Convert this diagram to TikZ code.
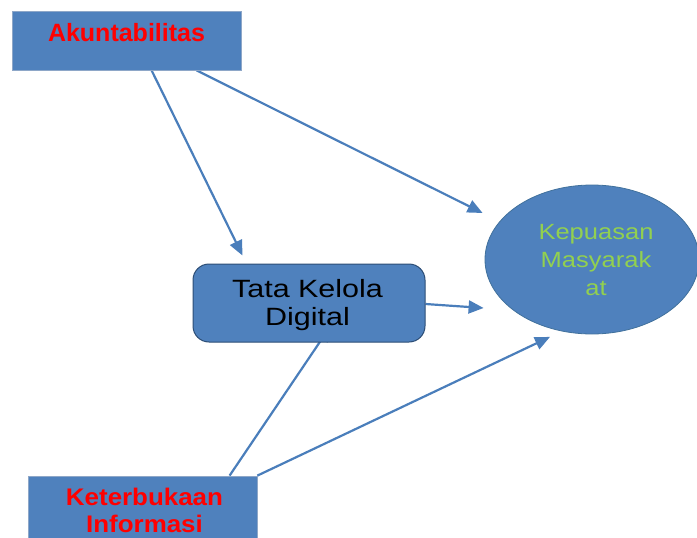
\documentclass[tikz,border=0pt]{standalone}
\usepackage{fontspec}
\setmainfont{Liberation Sans}
\newfontfamily\regfont[FakeStretch=1.22]{Liberation Sans}
\newfontfamily\kepfont[FakeStretch=1.16]{Liberation Sans}
\newfontfamily\infofont[FakeStretch=1.08]{Liberation Sans}
\usetikzlibrary{shapes.geometric,arrows.meta,calc}
\definecolor{boxblue}{HTML}{4F81BD}
\definecolor{lightedge}{HTML}{8EA7C8}
\definecolor{darkedge}{HTML}{2C4D75}
\definecolor{elledge}{HTML}{41719C}
\definecolor{arrowblue}{HTML}{4A7EBB}
\definecolor{kepgreen}{HTML}{92D050}
\pgfdeclarelayer{background}
\pgfsetlayers{background,main}
\tikzset{
  sqbox/.style={rectangle, fill=boxblue, draw=lightedge, line width=0.8pt, inner sep=0pt},
  tatabox/.style={rectangle, rounded corners=16pt, fill=boxblue, draw=darkedge, line width=1pt, inner sep=0pt},
  kepell/.style={ellipse, fill=boxblue, draw=elledge, line width=0.8pt, inner sep=0pt},
  redlbl/.style={text=red, font=\bfseries\fontsize{25}{28}\selectfont, align=center, inner sep=0pt},
  infolbl/.style={text=red, font=\infofont\bfseries\fontsize{24}{27}\selectfont, align=center, inner sep=0pt},
  tatalbl/.style={text=black, font=\regfont\fontsize{25}{28}\selectfont, align=center, inner sep=0pt},
  keplbl/.style={text=kepgreen, font=\kepfont\fontsize{22}{28}\selectfont, align=center, inner sep=0pt},
  arr/.style={draw=arrowblue, line width=2.2pt, -{Triangle[length=15pt,width=13pt]}, arrowblue}
}
\begin{document}
\begin{tikzpicture}[x=1pt,y=-1pt]
\useasboundingbox (0,0) rectangle (697,538);
\clip (0,0) rectangle (697,538);
\node[sqbox, minimum width=229pt, minimum height=59pt,
  label={[redlbl,yshift=7.45pt]center:{Akuntabilitas}}] (akun) at (126.5,40.5) {};
\node[tatabox, minimum width=232pt, minimum height=78pt,
  label={[tatalbl,xshift=-1.5pt,yshift=-1.7pt]center:{Tata Kelola\\Digital}}] (tata) at (309,303) {};
\node[kepell, minimum width=214pt, minimum height=149pt,
  label={[keplbl,xshift=4pt,yshift=-0.6pt]center:{Kepuasan\\Masyarak\\at}}] (kep) at (592,259.5) {};
\node[sqbox, minimum width=229pt, minimum height=69pt,
  label={[infolbl,xshift=2pt]center:{Keterbukaan\\Informasi}}] (info) at (142.5,510.5) {};
\begin{pgfonlayer}{background}
\draw[arr] ([xshift=140pt]akun.south west) -- ($(tata.north west)+(50,-8)$);
\draw[arr] ([xshift=185pt]akun.south west) -- ($(kep.west)+(-2,-46.5)$);
\draw[arr] ($(tata.east)+(0,1)$) -- ($(kep.west)+(-1,48.5)$);
\draw[arr] (info.north east) -- ($(kep.south)+(-42,2.5)$);
\draw[arr] ([xshift=202pt]info.north west) -- ($(tata.south)+(21.3,-16)$);
\end{pgfonlayer}
\end{tikzpicture}
\end{document}
